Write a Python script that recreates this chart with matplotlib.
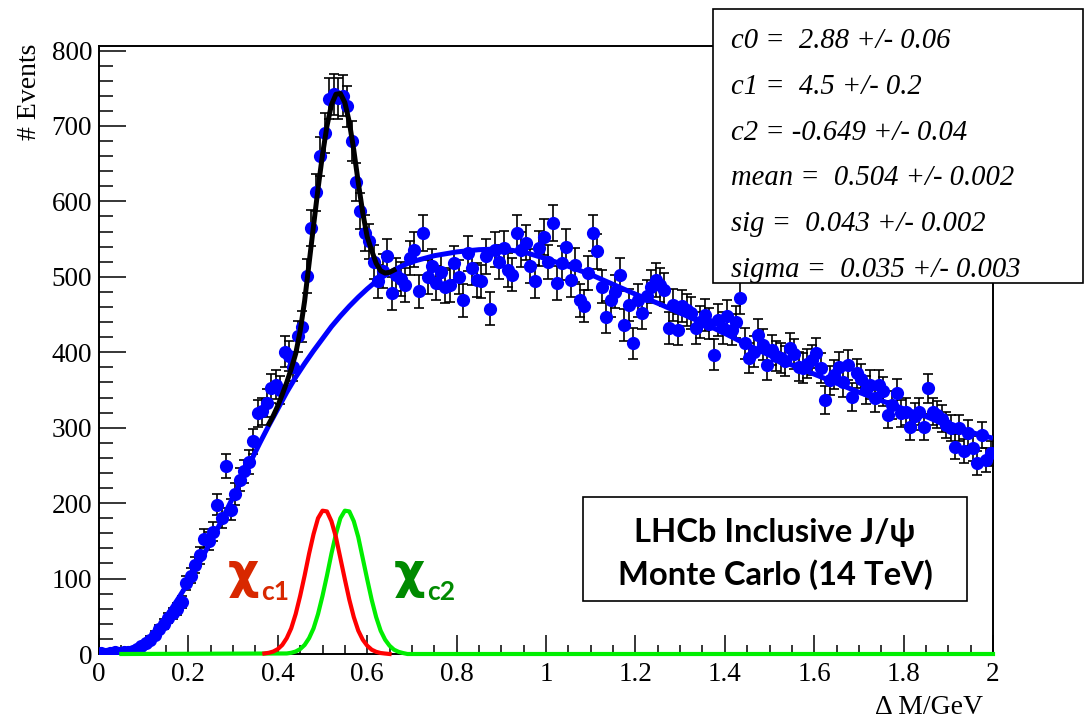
import numpy as np
import matplotlib
matplotlib.use("Agg")
import matplotlib.pyplot as plt
from matplotlib.patches import Rectangle
from matplotlib.ticker import FixedLocator, FixedFormatter, MultipleLocator

# ---------------- data ----------------
bin_width = 0.01
counts = [1, 0, 1, 2, 1, 2, 3, 4, 7, 10,
          14, 19, 25, 33, 40, 48, 54, 60, 69, 94,
          104, 118, 131, 153, 150, 162, 198, 180, 249, 191,
          212, 231, 242, 255, 282, 319, 322, 333, 352, 357,
          350, 401, 395, 381, 421, 434, 501, 565, 612, 660,
          691, 736, 742, 737, 740, 726, 680, 626, 587, 558,
          547, 520, 494, 508, 527, 478, 503, 497, 489, 525,
          536, 481, 558, 500, 514, 492, 507, 487, 489, 518,
          500, 469, 531, 512, 496, 494, 527, 458, 536, 520,
          538, 509, 503, 558, 536, 545, 514, 494, 538, 553,
          520, 571, 492, 518, 540, 496, 516, 469, 461, 505,
          558, 534, 487, 447, 469, 480, 503, 436, 463, 412,
          469, 452, 474, 487, 496, 489, 483, 432, 463, 430,
          461, 456, 452, 432, 440, 450, 438, 397, 443, 432,
          448, 430, 440, 472, 412, 392, 401, 423, 410, 383,
          403, 395, 392, 388, 405, 398, 381, 379, 385, 390,
          399, 379, 337, 363, 370, 381, 360, 383, 341, 372,
          365, 350, 357, 339, 357, 348, 317, 330, 346, 319,
          321, 301, 315, 321, 301, 352, 321, 317, 312, 304,
          300, 275, 299, 269, 293, 273, 253, 290, 257, 266]

# background fit curve (blue)
bg_x = [0.00, 0.06, 0.08, 0.10, 0.12, 0.14, 0.16, 0.18, 0.20, 0.22, 0.24, 0.26,
        0.28, 0.30, 0.32, 0.34, 0.36, 0.38, 0.40, 0.42, 0.44, 0.46, 0.48, 0.50,
        0.52, 0.54, 0.56, 0.58, 0.60, 0.62, 0.64, 0.66, 0.68, 0.70, 0.75, 0.80,
        0.85, 0.90, 0.95, 1.00, 1.05, 1.10, 1.15, 1.20, 1.25, 1.30, 1.35, 1.40,
        1.45, 1.50, 1.55, 1.60, 1.65, 1.70, 1.75, 1.80, 1.85, 1.90, 1.95, 2.00]
bg_y = [0, 0, 3, 11, 25, 41, 58, 76, 95, 116, 138, 160,
        184, 208, 232, 256, 280, 303, 325, 347, 367, 385, 402, 418,
        434, 448, 461, 473, 484, 494, 502, 509, 515, 520, 528, 533,
        536, 537, 533, 524, 514, 503, 490, 477, 465, 452, 439, 425,
        410, 396, 383, 371, 359, 347, 336, 325, 315, 302, 294, 286]

# total fit curve (black)
tot_x = [0.38, 0.39, 0.40, 0.41, 0.42, 0.43, 0.44, 0.45, 0.46, 0.47, 0.48, 0.49,
         0.50, 0.51, 0.52, 0.53, 0.54, 0.55, 0.56, 0.57, 0.58, 0.59, 0.60, 0.61,
         0.62, 0.63, 0.64, 0.65, 0.66]
tot_y = [305, 316, 329, 344, 360, 378, 398, 428, 468, 518, 568, 617,
         662, 700, 728, 742, 743, 731, 705, 668, 625, 585, 553, 535,
         518, 508, 505, 506, 509]

# chi_c1 component (red)
c1_x = [0.37, 0.38, 0.39, 0.40, 0.41, 0.42, 0.43, 0.44, 0.45, 0.46, 0.47, 0.48,
        0.49, 0.50, 0.51, 0.52, 0.53, 0.54, 0.55, 0.56, 0.57, 0.58, 0.59, 0.60,
        0.61, 0.62, 0.63, 0.64, 0.65]
c1_y = [0.7, 1.6, 3.3, 6.5, 12, 21, 34, 53, 77, 104, 133, 159,
        180, 190, 189, 176, 155, 127, 99, 72, 49, 31, 19, 11,
        5.7, 2.9, 1.3, 0.6, 0]

# chi_c2 component (green)
c2_x = [0.05, 0.42, 0.43, 0.44, 0.45, 0.46, 0.47, 0.48, 0.49, 0.50, 0.51, 0.52,
        0.53, 0.54, 0.55, 0.56, 0.57, 0.58, 0.59, 0.60, 0.61, 0.62, 0.63, 0.64,
        0.65, 0.66, 0.67, 0.68, 0.69, 2.00]
c2_y = [0, 0.7, 1.6, 3.3, 6.5, 12, 21, 34, 53, 77, 104, 133,
        159, 180, 190, 189, 176, 155, 127, 99, 72, 49, 31, 19,
        11, 5.7, 2.9, 1.3, 0, 0]

xtick_vals = [0, 0.2, 0.4, 0.6, 0.8, 1.0, 1.2, 1.4, 1.6, 1.8, 2.0]
xtick_labels = ["0", "0.2", "0.4", "0.6", "0.8", "1", "1.2", "1.4", "1.6", "1.8", "2"]
ytick_vals = [0, 100, 200, 300, 400, 500, 600, 700, 800]
ytick_labels = ["0", "100", "200", "300", "400", "500", "600", "700", "800"]

stat_lines = ["c0 =  2.88 +/- 0.06",
              "c1 =  4.5 +/- 0.2",
              "c2 = -0.649 +/- 0.04",
              "mean =  0.504 +/- 0.002",
              "sig =  0.043 +/- 0.002",
              "sigma =  0.035 +/- 0.003"]
info_lines = ["LHCb Inclusive J/\u03c8", "Monte Carlo (14 TeV)"]

# ---------------- figure ----------------
W, H = 1092, 718
fig = plt.figure(figsize=(W / 100, H / 100), dpi=100, facecolor="white")


def fx(px):
    return px / W


def fy(py):
    return 1 - py / H


ax = fig.add_axes([fx(99), fy(654), fx(993) - fx(99), fy(46) - fy(654)])
ax.set_xlim(0, 2)
ax.set_ylim(0, 806)

serif = "Liberation Serif"

centers = np.arange(len(counts)) * bin_width + bin_width / 2
cnt = np.array(counts, dtype=float)
err = np.sqrt(cnt)
ax.errorbar(centers, cnt, yerr=err, fmt="none", ecolor="black", elinewidth=1.2,
            capsize=3.3, capthick=1.2, zorder=2)
ax.plot(centers, cnt, "o", color="#0000ff", markersize=9.5, markeredgewidth=0, zorder=3)

ax.plot(bg_x, bg_y, color="#0000ff", lw=3.6, zorder=4, solid_capstyle="butt")
ax.plot(tot_x, tot_y, color="black", lw=3.6, zorder=5)
ax.plot(c2_x, c2_y, color="#00ee00", lw=3.0, zorder=6, clip_on=False)
ax.plot(c1_x, c1_y, color="#ff0000", lw=3.0, zorder=7, clip_on=False)

for s in ["top", "right", "left", "bottom"]:
    ax.spines[s].set_linewidth(1.4)

ax.xaxis.set_major_locator(FixedLocator(xtick_vals))
ax.xaxis.set_major_formatter(FixedFormatter(xtick_labels))
ax.xaxis.set_minor_locator(MultipleLocator(0.05))
ax.yaxis.set_major_locator(FixedLocator(ytick_vals))
ax.yaxis.set_major_formatter(FixedFormatter(ytick_labels))
ax.yaxis.set_minor_locator(MultipleLocator(20))

ax.tick_params(axis="x", which="major", direction="in", length=13.5, width=1.1, pad=6,
               labelsize=19.5, top=False)
ax.tick_params(axis="x", which="minor", direction="in", length=6.8, width=1.1, top=False)
ax.tick_params(axis="y", which="major", direction="in", length=19.5, width=1.1, pad=5,
               labelsize=19.5, right=False)
ax.tick_params(axis="y", which="minor", direction="in", length=10, width=1.1, right=False)
for lab in ax.get_xticklabels() + ax.get_yticklabels():
    lab.set_fontfamily(serif)

# axis titles
fig.text(fx(30), fy(44), "# Events", rotation=90, ha="center", va="top",
         fontsize=20, family=serif)
fig.text(fx(983), fy(707), "\u0394 M/GeV", ha="right", va="center",
         fontsize=20, family=serif)

# chi labels
chi_fam = ["DejaVu Sans"]
sub_fam = ["Lato", "DejaVu Sans"]
fig.text(fx(228), fy(588), "\u03c7", color="#d82800", fontsize=35, fontweight="bold",
         family=chi_fam, ha="left", va="baseline")
fig.text(fx(261), fy(600), "c1", color="#d82800", fontsize=19, fontweight="bold",
         family=sub_fam, ha="left", va="baseline")
fig.text(fx(394), fy(588), "\u03c7", color="#008a00", fontsize=35, fontweight="bold",
         family=chi_fam, ha="left", va="baseline")
fig.text(fx(427), fy(600), "c2", color="#008a00", fontsize=19, fontweight="bold",
         family=sub_fam, ha="left", va="baseline")

# stat box
fig.patches.append(Rectangle((fx(713), fy(283)), fx(1083) - fx(713), fy(9) - fy(283),
                             transform=fig.transFigure, facecolor="white",
                             edgecolor="black", lw=1.2, zorder=10))
base = [48, 93.8, 139.6, 185.4, 231.2, 277]
for txt, b in zip(stat_lines, base):
    fig.text(fx(731), fy(b), txt, ha="left", va="baseline", fontsize=20.6,
             family=serif, style="italic", zorder=11)

# info box
fig.patches.append(Rectangle((fx(583), fy(601)), fx(967) - fx(583), fy(497) - fy(601),
                             transform=fig.transFigure, facecolor="white",
                             edgecolor="black", lw=1.2, zorder=10))
info_fam = ["Lato", "DejaVu Sans"]
t2 = fig.text(fx(775), fy(585), info_lines[1], ha="center", va="baseline", fontsize=22,
              fontweight="bold", family=info_fam, zorder=11)
fig.canvas.draw()
wpx = t2.get_window_extent().width
fs = 22 * 315.0 / wpx
t2.set_fontsize(fs)
fig.text(fx(775), fy(542), info_lines[0], ha="center", va="baseline", fontsize=fs,
         fontweight="bold", family=info_fam, zorder=11)

fig.savefig("out.png", dpi=100, facecolor="white")
